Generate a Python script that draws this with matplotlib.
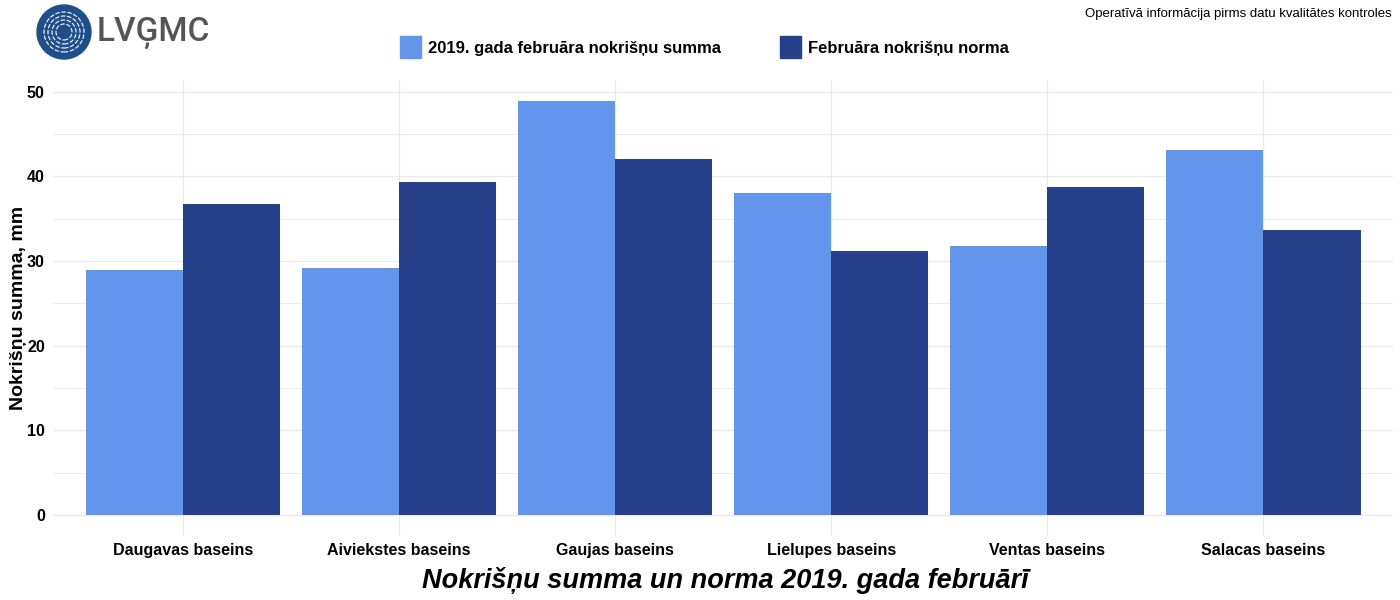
import numpy as np
import matplotlib.pyplot as plt
from matplotlib.patches import Circle, Rectangle

# dati
baseini = ['Daugavas baseins', 'Aiviekstes baseins', 'Gaujas baseins',
           'Lielupes baseins', 'Ventas baseins', 'Salacas baseins']
summa_2019 = [29.0, 29.2, 48.9, 38.1, 31.8, 43.1]
norma = [36.8, 39.4, 42.1, 31.2, 38.7, 33.7]

leg_labels = ['2019. gada februāra nokrišņu summa', 'Februāra nokrišņu norma']
krasas = ['#6495ED', '#27408B']

plt.rcParams['font.family'] = ['Liberation Sans', 'DejaVu Sans']

fig = plt.figure(figsize=(14, 6), dpi=100)
ax = fig.add_axes([0.038, 0.107, 0.957, 0.759])

x = np.arange(len(baseini))
w = 0.45
ax.bar(x - w / 2, summa_2019, width=w, color=krasas[0], zorder=3)
ax.bar(x + w / 2, norma, width=w, color=krasas[1], zorder=3)

ymax = max(max(summa_2019), max(norma))
ax.set_xlim(-0.6, len(baseini) - 0.4)
ax.set_ylim(-0.05 * ymax, ymax * 1.05)

ax.set_yticks([0, 10, 20, 30, 40, 50])
ax.set_yticks([5, 15, 25, 35, 45], minor=True)
ax.set_xticks(x)
ax.set_xticklabels(baseini, fontsize=11.5, fontweight='bold')
for t in ax.get_yticklabels():
    t.set_fontsize(11.5)
    t.set_fontweight('bold')
ax.tick_params(axis='both', which='both', length=0, pad=6)
ax.tick_params(axis='x', pad=5)

ax.grid(True, which='major', color='#EBEBEB', linewidth=1, zorder=0)
ax.grid(True, which='minor', axis='y', color='#EBEBEB', linewidth=0.7, zorder=0)
for s in ax.spines.values():
    s.set_visible(False)

ax.set_ylabel('Nokrišņu summa, mm', fontsize=14, fontweight='bold', va='center')
ax.yaxis.set_label_coords(-0.026, 0.5)
fig.text(0.518, 0.032, 'Nokrišņu summa un norma 2019. gada februārī',
         fontsize=19.5, fontweight='bold', style='italic', ha='center', va='center')

# legenda augšā
lx = [400, 780]
for i in range(2):
    fig.patches.append(Rectangle((lx[i] / 1400, 1 - 58 / 600), 21 / 1400, 22 / 600,
                                 transform=fig.transFigure, color=krasas[i]))
    fig.text((lx[i] + 28) / 1400, 1 - 48 / 600, leg_labels[i], fontsize=12,
             fontweight='bold', va='center', ha='left')

fig.text(1392 / 1400, 1 - 14 / 600, 'Operatīvā informācija pirms datu kvalitātes kontroles',
         fontsize=9.5, ha='right', va='center')

# logo
lax = fig.add_axes([0, 1 - 64 / 600, 64 * 2 / 1400, 64 / 600])
lax.set_xlim(0, 64 * 2)
lax.set_ylim(0, 64)
lax.set_aspect('equal')
lax.axis('off')
lax.add_patch(Circle((64, 32), 27, color='#1F4E8C'))
for r in [8, 12, 16, 20]:
    lax.add_patch(Circle((64, 32), r, fill=False, ec='white', lw=0.8, ls=(0, (4, 1.5))))
fig.text(97 / 1400, 1 - 33 / 600, 'LVĢMC', fontsize=24, color='#555555',
         family=['Roboto', 'DejaVu Sans'], fontweight='medium', va='center', ha='left')

fig.savefig('out.png', dpi=100)
